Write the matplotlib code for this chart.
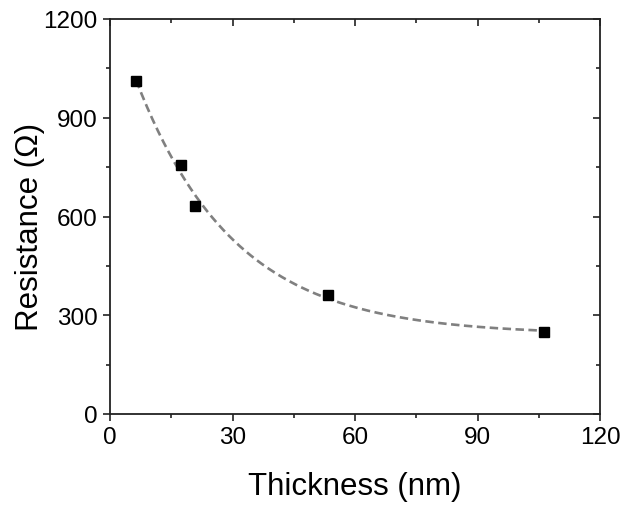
import numpy as np
import matplotlib
matplotlib.use('Agg')
import matplotlib.pyplot as plt
from matplotlib.ticker import MultipleLocator

plt.rcParams.update({'font.family': ['Liberation Sans', 'DejaVu Sans']})

#==============================================================================
# data
#==============================================================================
thickness_nm = [6.4, 17.4, 20.9, 53.4, 106.2]
resistance_ohm = [1013, 757, 632, 362, 248]

#==============================================================================
# exponential decay fit  y = y0 + A*exp(-x/t)  (least squares on the points)
#==============================================================================
x_pts = np.array(thickness_nm)
y_pts = np.array(resistance_ohm)
best = None
for t in np.linspace(5, 80, 1501):
    M = np.column_stack([np.ones_like(x_pts), np.exp(-x_pts / t)])
    coef, res, _, _ = np.linalg.lstsq(M, y_pts, rcond=None)
    err = np.sum((M @ coef - y_pts) ** 2)
    if best is None or err < best[0]:
        best = (err, t, coef)
_, t_fit, (y0_fit, a_fit) = best
x_fit = np.linspace(x_pts.min(), x_pts.max(), 300)
y_fit = y0_fit + a_fit * np.exp(-x_fit / t_fit)

#==============================================================================
# PLOTTING
#==============================================================================
fig = plt.figure(figsize=(6.28, 5.10), dpi=100)
ax = fig.add_axes([110 / 628, 1 - 415 / 510, 490 / 628, 395 / 510])

ax.plot(x_fit, y_fit, ls=(0, (3.2, 1.7)), color='#808080', lw=1.9, zorder=2)
ax.plot(thickness_nm, resistance_ohm, 's', color='black', ms=7.6, zorder=3)

ax.set_xlim(0, 120)
ax.set_ylim(0, 1200)
ax.xaxis.set_major_locator(MultipleLocator(30))
ax.xaxis.set_minor_locator(MultipleLocator(15))
ax.yaxis.set_major_locator(MultipleLocator(300))
ax.yaxis.set_minor_locator(MultipleLocator(150))

for sp in ax.spines.values():
    sp.set_linewidth(1.3)
    sp.set_color('#222222')

ax.tick_params(which='both', direction='out', width=1.2, labelsize=17.5,
               color='#222222', pad=4)
ax.tick_params(which='major', length=5)
ax.tick_params(which='minor', length=3)

# mirrored ticks pointing inward on the top and right
top = ax.secondary_xaxis('top')
top.xaxis.set_major_locator(MultipleLocator(30))
top.xaxis.set_minor_locator(MultipleLocator(15))
top.tick_params(which='both', direction='in', width=1.2, labeltop=False,
                color='#222222')
top.tick_params(which='major', length=5)
top.tick_params(which='minor', length=3)
right = ax.secondary_yaxis('right')
right.yaxis.set_major_locator(MultipleLocator(300))
right.yaxis.set_minor_locator(MultipleLocator(150))
right.tick_params(which='both', direction='in', width=1.2, labelright=False,
                  color='#222222')
right.tick_params(which='major', length=5)
right.tick_params(which='minor', length=3)
top.spines['top'].set_visible(False)
right.spines['right'].set_visible(False)

ax.set_xlabel('Thickness (nm)', size=22.5, labelpad=16)
ax.set_ylabel('Resistance (\u03a9)', size=22.5)
ax.yaxis.set_label_coords(-0.132, 0.477)

fig.savefig('out.png', dpi=100)
